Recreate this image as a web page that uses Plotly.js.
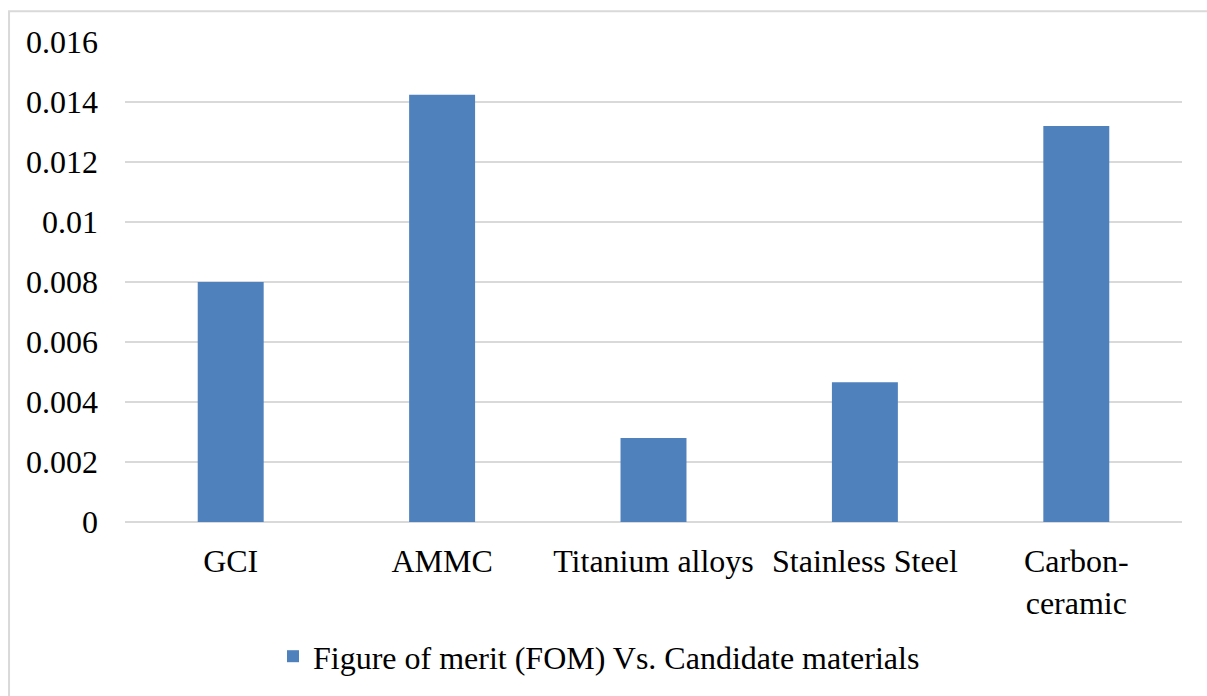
<!DOCTYPE html>
<html>
<head>
<meta charset="utf-8">
<script src="https://cdn.plot.ly/plotly-3.0.1.min.js"></script>
</head>
<body style="margin:0;background:#ffffff">
<div id="c" style="width:1207px;height:696px"></div>
<script>
// Candidate brake-disc materials and their figure of merit
const materials = ['GCI', 'AMMC', 'Titanium alloys', 'Stainless Steel', 'Carbon-<br>ceramic'];
const fomValues = [0.0080, 0.01424, 0.0028, 0.00466, 0.0132];
const seriesName = 'Figure of merit (FOM) Vs. Candidate materials';
const yTicks = [0, 0.002, 0.004, 0.006, 0.008, 0.01, 0.012, 0.014, 0.016];
const yTickText = ['0', '0.002', '0.004', '0.006', '0.008', '0.01', '0.012', '0.014', '0.016'];

Plotly.newPlot('c', [{
  type: 'bar',
  x: materials,
  y: fomValues,
  name: seriesName,
  showlegend: true,
  width: 0.312,
  marker: { color: '#4f81bd' }
}], {
  width: 1207,
  height: 696,
  margin: { l: 125, r: 25, t: 42, b: 172 },
  font: { family: 'Liberation Serif', size: 32, color: '#000000' },
  showlegend: true,
  xaxis: {
    type: 'category',
    showgrid: false,
    showline: false,
    zeroline: false,
    ticks: '',
    ticklabelstandoff: 17,
    tickfont: { family: 'Liberation Serif', size: 32, color: '#000000' },
    automargin: false
  },
  yaxis: {
    range: [0, 0.016],
    tickvals: yTicks,
    ticktext: yTickText,
    showgrid: true,
    gridcolor: '#d9d9d9',
    gridwidth: 1.5,
    zeroline: true,
    zerolinecolor: '#d9d9d9',
    zerolinewidth: 1.5,
    showline: false,
    ticks: '',
    ticklabelstandoff: 26,
    tickfont: { family: 'Liberation Serif', size: 32, color: '#000000' },
    automargin: false
  },
  legend: {
    orientation: 'h',
    x: 0.14,
    xanchor: 'left',
    y: -0.28,
    yanchor: 'middle',
    font: { family: 'Liberation Serif', size: 32, color: '#000000' },
    itemwidth: 30
  },
  shapes: [{
    type: 'rect',
    xref: 'paper', yref: 'paper',
    x0: -0.1097, x1: 1.03,
    y0: -0.40, y1: 1.0643,
    line: { color: '#d9d9d9', width: 2 },
    layer: 'below'
  }]
}).then(function (gd) {
  // no toolbar on the finished chart
  var bar = gd.querySelector('.modebar-container');
  if (bar) bar.style.display = 'none';
});
</script>
</body>
</html>
